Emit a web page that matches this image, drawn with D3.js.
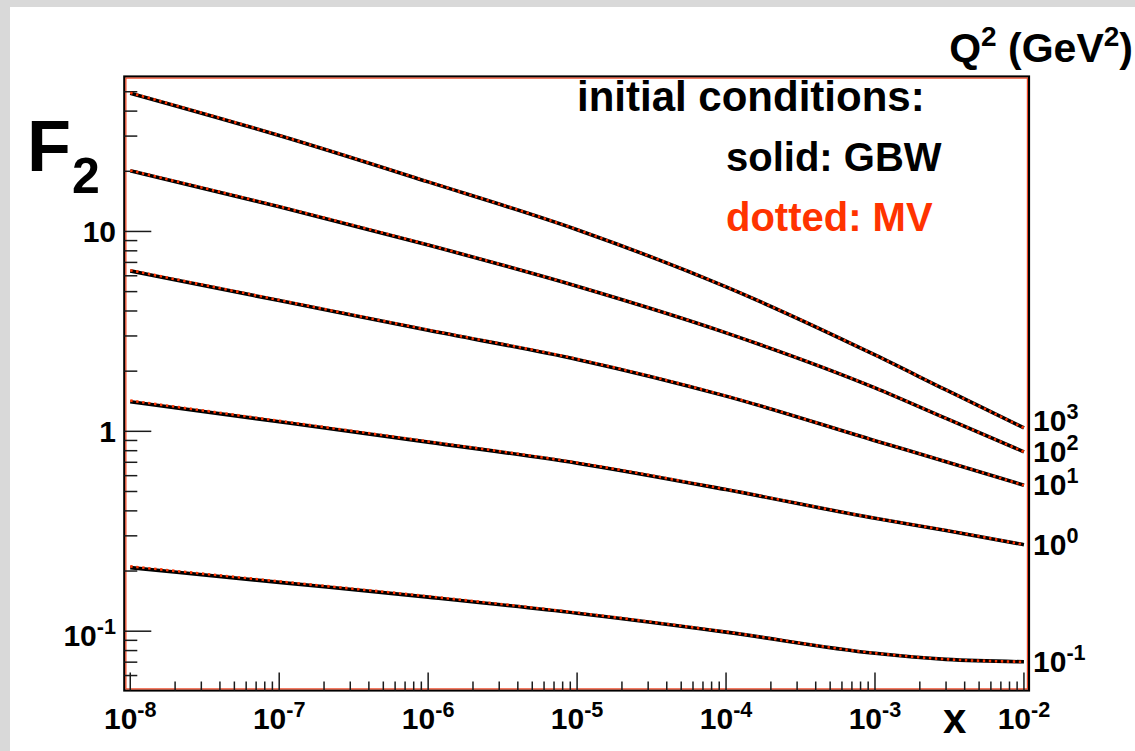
<!DOCTYPE html>
<html>
<head>
<meta charset="utf-8">
<script src="https://cdn.jsdelivr.net/npm/d3@7"></script>
<style>
  body { margin: 0; background: #ffffff; }
  text { font-family: "Liberation Sans", Arial, Helvetica, sans-serif; font-weight: bold; }
</style>
</head>
<body>
<svg id="chart" width="1135" height="751"></svg>
<script>
// x grid shared by all curves
const xGrid = [1e-8, 1e-7, 1e-6, 1e-5, 1e-4, 1e-3, 3e-3, 1e-2];

// Q^2 values (exponent of 10, in GeV^2) labelling each pair of curves
const q2Exponents = [-1, 0, 1, 2, 3];

// F2 with GBW initial condition (solid)
const gbwQ2m1 = [0.208, 0.1755, 0.148, 0.123, 0.0989, 0.0775, 0.0723, 0.0703];
const gbwQ20  = [1.406, 1.116, 0.883, 0.693, 0.511, 0.367, 0.319, 0.271];
const gbwQ21  = [6.35, 4.51, 3.20, 2.29, 1.50, 0.898, 0.705, 0.537];
const gbwQ22  = [20.1, 13.3, 8.55, 5.32, 3.11, 1.65, 1.16, 0.79];
const gbwQ23  = [49.2, 30.2, 17.7, 10.2, 5.28, 2.41, 1.61, 1.04];

// F2 with MV initial condition (dotted)
const mvQ2m1 = [0.211, 0.1775, 0.1495, 0.1238, 0.0993, 0.0777, 0.0724, 0.0703];
const mvQ20  = [1.425, 1.128, 0.890, 0.697, 0.513, 0.368, 0.320, 0.271];
const mvQ21  = [6.40, 4.54, 3.22, 2.30, 1.505, 0.900, 0.706, 0.537];
const mvQ22  = [20.2, 13.35, 8.58, 5.33, 3.115, 1.652, 1.161, 0.79];
const mvQ23  = [49.4, 30.3, 17.75, 10.22, 5.29, 2.412, 1.611, 1.04];

// axis tick labels
const xTickExponents = [-8, -7, -6, -5, -4, -3, -2];
const yTickValues = [0.1, 1, 10];
const yTickLabels = [["10", "-1"], ["1", ""], ["10", ""]];

const gbwSeries = [gbwQ2m1, gbwQ20, gbwQ21, gbwQ22, gbwQ23];
const mvSeries  = [mvQ2m1, mvQ20, mvQ21, mvQ22, mvQ23];

const RED = "#ff3300";
const svg = d3.select("#chart");

// canvas background with grey margin on the top/left
svg.append("rect").attr("width", 1135).attr("height", 751).attr("fill", "#d9d9d9");
svg.append("rect").attr("x", 10).attr("y", 7).attr("width", 1125).attr("height", 744).attr("fill", "#ffffff");

const plot = { left: 124.3, right: 1029, top: 76.5, bottom: 690.5 };

const x = d3.scaleLog()
  .domain([Math.pow(10, -8.04), Math.pow(10, -1.966)])
  .range([plot.left, plot.right]);
const y = d3.scaleLog()
  .domain([0.0505, 59.6])
  .range([plot.bottom, plot.top]);

// frame
svg.append("rect")
  .attr("x", plot.left).attr("y", plot.top)
  .attr("width", plot.right - plot.left).attr("height", plot.bottom - plot.top)
  .attr("fill", "#ffffff").attr("stroke", "#000000").attr("stroke-width", 2.2);
svg.append("rect")
  .attr("x", plot.left + 1.6).attr("y", plot.top + 1.6)
  .attr("width", plot.right - plot.left - 3.2).attr("height", plot.bottom - plot.top - 3.2)
  .attr("fill", "none").attr("stroke", "#ee4422").attr("stroke-width", 1.2);

// x ticks (log, drawn upward from the bottom axis)
const xMajor = xTickExponents.map(e => Math.pow(10, e));
const xMinor = [];
xTickExponents.slice(0, -1).forEach(e => {
  for (let m = 2; m <= 9; m++) xMinor.push(m * Math.pow(10, e));
});
const ticks = svg.append("g").attr("stroke", "#1a1a1a").attr("stroke-width", 1.5);
ticks.selectAll(".xmaj").data(xMajor).join("line")
  .attr("x1", d => x(d)).attr("x2", d => x(d))
  .attr("y1", plot.bottom).attr("y2", plot.bottom - 18);
ticks.selectAll(".xmin").data(xMinor).join("line")
  .attr("x1", d => x(d)).attr("x2", d => x(d))
  .attr("y1", plot.bottom).attr("y2", plot.bottom - 9);

// y ticks (log, drawn rightward from the left axis)
const yMinor = [];
[-2, -1, 0, 1].forEach(e => {
  for (let m = 2; m <= 9; m++) {
    const v = m * Math.pow(10, e);
    if (v > y.domain()[0] * 1.02 && v < y.domain()[1]) yMinor.push(v);
  }
});
ticks.selectAll(".ymaj").data(yTickValues).join("line")
  .attr("x1", plot.left).attr("x2", plot.left + 27)
  .attr("y1", d => y(d)).attr("y2", d => y(d));
ticks.selectAll(".ymin").data(yMinor).join("line")
  .attr("x1", plot.left).attr("x2", plot.left + 13)
  .attr("y1", d => y(d)).attr("y2", d => y(d));

// helper: "base^sup" text
function powText(g, px, py, base, sup, size, anchor, color) {
  const t = g.append("text")
    .attr("x", px).attr("y", py)
    .attr("font-size", size)
    .attr("text-anchor", anchor)
    .attr("fill", color || "#000");
  t.append("tspan").text(base);
  if (sup) {
    t.append("tspan").attr("font-size", size * 0.72).attr("dy", -size * 0.4).text(sup);
  }
  return t;
}

// x tick labels
const labels = svg.append("g");
xTickExponents.forEach(e => {
  powText(labels, x(Math.pow(10, e)), 729, "10", String(e), 30, "middle");
});

// y tick labels
yTickValues.forEach((v, i) => {
  const [b, s] = yTickLabels[i];
  powText(labels, 116, y(v) + 11 + (s ? 4 : 0), b, s, 30, "end");
});

// curves
const line = d3.line()
  .x((d, i) => x(xGrid[i]))
  .y(d => y(d))
  .curve(d3.curveMonotoneX);

const curves = svg.append("g");
curves.selectAll(".gbw").data(gbwSeries).join("path")
  .attr("d", line)
  .attr("fill", "none")
  .attr("stroke", "#000000")
  .attr("stroke-width", 3.6);
curves.selectAll(".mv").data(mvSeries).join("path")
  .attr("d", line)
  .attr("fill", "none")
  .attr("stroke", RED)
  .attr("stroke-width", 2.6)
  .attr("stroke-dasharray", "2.4,3.6");

// Q^2 labels at the right end of each curve, spread so they don't overlap
const ends = gbwSeries.map(s => y(s[s.length - 1]));
const centers = ends.slice();
for (let i = 1; i < centers.length; i++) {
  centers[i] = Math.min(centers[i], centers[i - 1] - 31);
}
q2Exponents.forEach((e, i) => {
  powText(labels, 1033, centers[i] + 10, "10", String(e), 30, "start");
});

// axis titles
const ft = labels.append("text").attr("x", 27).attr("y", 171).attr("font-size", 72);
ft.append("tspan").text("F");
ft.append("tspan").attr("font-size", 50).attr("dx", 1).attr("dy", 22).text("2");

labels.append("text").attr("x", 943).attr("y", 733).attr("font-size", 42).text("x");

const qt = labels.append("text").attr("x", 1133).attr("y", 62).attr("font-size", 41).attr("text-anchor", "end");
qt.append("tspan").text("Q");
qt.append("tspan").attr("font-size", 28).attr("dy", -16).text("2");
qt.append("tspan").attr("dy", 16).text(" (GeV");
qt.append("tspan").attr("font-size", 28).attr("dy", -16).text("2");
qt.append("tspan").attr("dy", 16).text(")");

// legend text
labels.append("text").attr("x", 577).attr("y", 111).attr("font-size", 42).text("initial conditions:");
labels.append("text").attr("x", 726).attr("y", 171).attr("font-size", 40).text("solid: GBW");
labels.append("text").attr("x", 726).attr("y", 231).attr("font-size", 40).attr("fill", RED).text("dotted: MV");
</script>
</body>
</html>
